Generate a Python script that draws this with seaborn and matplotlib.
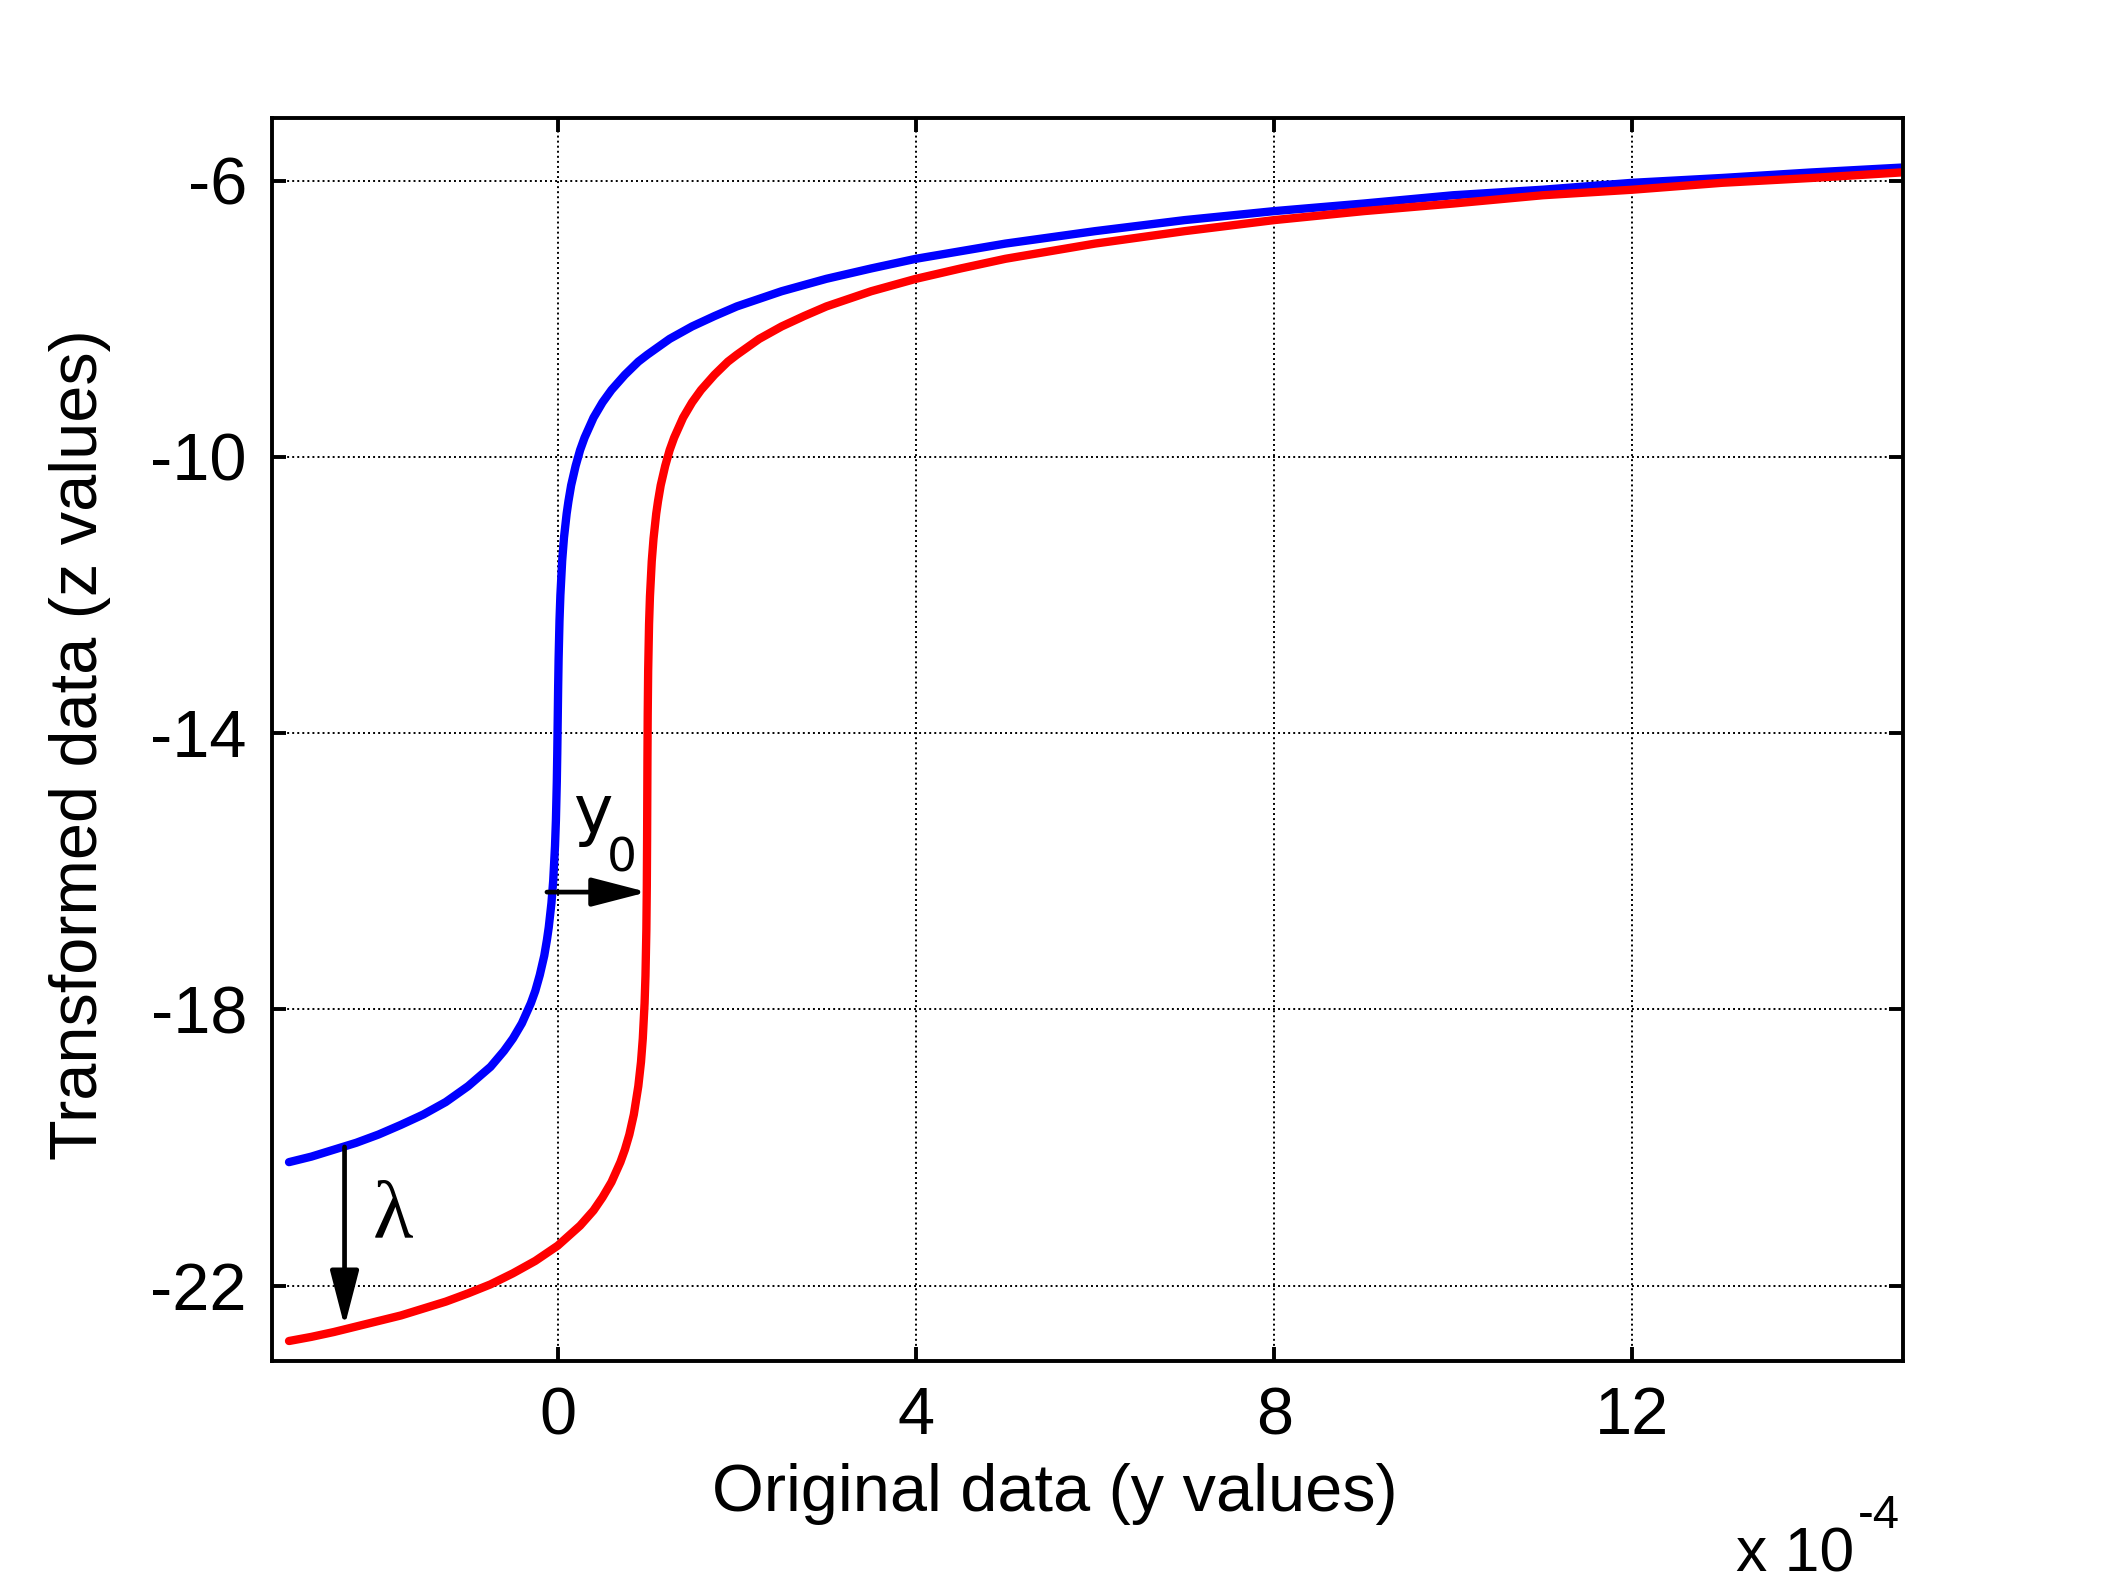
import matplotlib
matplotlib.use("Agg")
import matplotlib.pyplot as plt
from matplotlib.patches import ArrowStyle
import seaborn as sns
import pandas as pd

# ---------------- data (x in units of 1e-4) ----------------
blue_x = [-3.0, -2.75, -2.5, -2.25, -2.0, -1.75, -1.5, -1.25, -1.0,
          -0.75, -0.6, -0.5, -0.4, -0.3, -0.25, -0.2, -0.15, -0.12, -0.1,
          -0.07, -0.05, -0.03, -0.02, -0.01, -0.005, 0.0,
          0.005, 0.01, 0.02, 0.03, 0.05, 0.07, 0.1, 0.12, 0.15, 0.2,
          0.25, 0.3, 0.4, 0.5, 0.6, 0.75, 0.9, 1.0, 1.25, 1.5,
          1.75, 2.0, 2.5, 3.0, 3.5, 4.0, 5.0, 6.0, 7.0, 8.0,
          9.0, 10.0, 11.0, 12.0, 13.0, 14.0, 15.0]
blue_z = [-20.21, -20.13, -20.03, -19.93, -19.81, -19.67, -19.52, -19.34, -19.11,
          -18.83, -18.60, -18.42, -18.20, -17.91, -17.73, -17.50, -17.22, -16.99, -16.81,
          -16.46, -16.13, -15.63, -15.26, -14.70, -14.30, -13.82,
          -13.33, -12.93, -12.37, -12.00, -11.50, -11.17, -10.82, -10.64, -10.41, -10.13,
          -9.90, -9.72, -9.43, -9.21, -9.03, -8.81, -8.62, -8.52, -8.29, -8.11,
          -7.96, -7.82, -7.60, -7.42, -7.27, -7.13, -6.91, -6.73, -6.57, -6.44,
          -6.33, -6.21, -6.13, -6.03, -5.96, -5.88, -5.81]

red_x = [-3.0, -2.75, -2.5, -2.25, -2.0, -1.75, -1.5, -1.25, -1.0, -0.75, -0.5, -0.25, 0.0,
         0.25, 0.4, 0.5, 0.6, 0.7, 0.75, 0.8, 0.85, 0.9, 0.93,
         0.95, 0.97, 0.98, 0.99, 0.995, 0.998, 1.0, 1.002, 1.005, 1.01,
         1.02, 1.03, 1.05, 1.07, 1.1, 1.12, 1.15, 1.2, 1.25, 1.3,
         1.4, 1.5, 1.6, 1.75, 1.9, 2.0, 2.25, 2.5, 2.75, 3.0,
         3.5, 4.0, 4.5, 5.0, 6.0, 7.0, 8.0, 9.0, 10.0, 11.0,
         12.0, 13.0, 14.0, 15.0]
red_z = [-22.80, -22.74, -22.67, -22.59, -22.51, -22.43, -22.33, -22.23, -22.11, -21.98, -21.82, -21.64, -21.42,
         -21.13, -20.91, -20.72, -20.50, -20.21, -20.03, -19.81, -19.52, -19.11, -18.76,
         -18.42, -17.91, -17.51, -16.84, -16.21, -15.56, -14.97, -14.37, -13.73, -13.10,
         -12.42, -12.02, -11.51, -11.18, -10.82, -10.64, -10.41, -10.13, -9.90, -9.72,
         -9.43, -9.21, -9.03, -8.81, -8.62, -8.52, -8.29, -8.11, -7.96, -7.82,
         -7.60, -7.42, -7.27, -7.13, -6.91, -6.73, -6.57, -6.44, -6.33, -6.21,
         -6.13, -6.03, -5.96, -5.88]

x_ticks = [0, 4, 8, 12]
y_ticks = [-22, -18, -14, -10, -6]

# annotation anchor values (data units)
shift_arrow_x = [-0.12, 1.0]
shift_arrow_z = [-16.3, -16.3]
lambda_arrow_x = [-2.38, -2.38]
lambda_arrow_z = [-19.99, -22.59]

df = pd.concat([
    pd.DataFrame({"y": blue_x, "z": blue_z, "curve": "blue"}),
    pd.DataFrame({"y": red_x, "z": red_z, "curve": "red"}),
], ignore_index=True)

# ---------------- style ----------------
sns.set_theme(style="white")
plt.rcParams["font.family"] = ["Liberation Sans", "DejaVu Sans"]
plt.rcParams["axes.unicode_minus"] = False

fig = plt.figure(figsize=(10.51, 7.88), dpi=200)
ax = fig.add_axes([0.1294, 0.1364, 0.7759, 0.7888])

sns.lineplot(data=df, x="y", y="z", hue="curve",
             palette={"blue": "#0000ff", "red": "#ff0000"},
             linewidth=3.0, legend=False, sort=False, errorbar=None, ax=ax)

ax.set_xlim(-3.19, 15.02)
ax.set_ylim(-23.09, -5.09)
ax.set_xticks(x_ticks)
ax.set_yticks(y_ticks)
ax.set_xticklabels([str(v) for v in x_ticks])
ax.set_yticklabels([str(v) for v in y_ticks])

ax.grid(True, color="black", linestyle=(0, (1, 1.6)), linewidth=0.7)
ax.set_axisbelow(True)
for sp in ax.spines.values():
    sp.set_visible(True)
    sp.set_color("black")
    sp.set_linewidth(1.4)
ax.tick_params(axis="both", which="major", direction="in", length=5, width=1.4,
               labelsize=24, pad=9, colors="black",
               top=True, right=True, bottom=True, left=True)

ax.set_xlabel("Original data (y values)", fontsize=24, color="black")
ax.set_ylabel("Transformed data (z values)", fontsize=24, color="black")
ax.xaxis.set_label_coords(0.48, -0.082)
ax.yaxis.set_label_coords(-0.099, 0.496)

# arrows
for ax_x, ax_z in ((shift_arrow_x, shift_arrow_z), (lambda_arrow_x, lambda_arrow_z)):
    ax.annotate("", xy=(ax_x[1], ax_z[1]), xytext=(ax_x[0], ax_z[0]),
                arrowprops=dict(arrowstyle=ArrowStyle("-|>", head_length=17, head_width=4.4),
                                mutation_scale=1, color="black", lw=1.7,
                                shrinkA=0, shrinkB=0))

ax.text(0.17, -15.45, "y", fontsize=24, family="DejaVu Sans",
        ha="left", va="baseline", color="black")
ax.text(0.55, -16.0, "0", fontsize=17, family="DejaVu Sans",
        ha="left", va="baseline", color="black")
ax.text(-2.07, -21.3, "λ", fontsize=30, family=["Liberation Serif", "DejaVu Serif"],
        ha="left", va="baseline", color="black")

fig.text(1736 / 2102, 0.003, "x 10", fontsize=22.5,
         ha="left", va="baseline", color="black")
fig.text(1858 / 2102, 0.0305, "-4", fontsize=17,
         ha="left", va="baseline", color="black")

fig.savefig("out.png", dpi=200, facecolor="white")
